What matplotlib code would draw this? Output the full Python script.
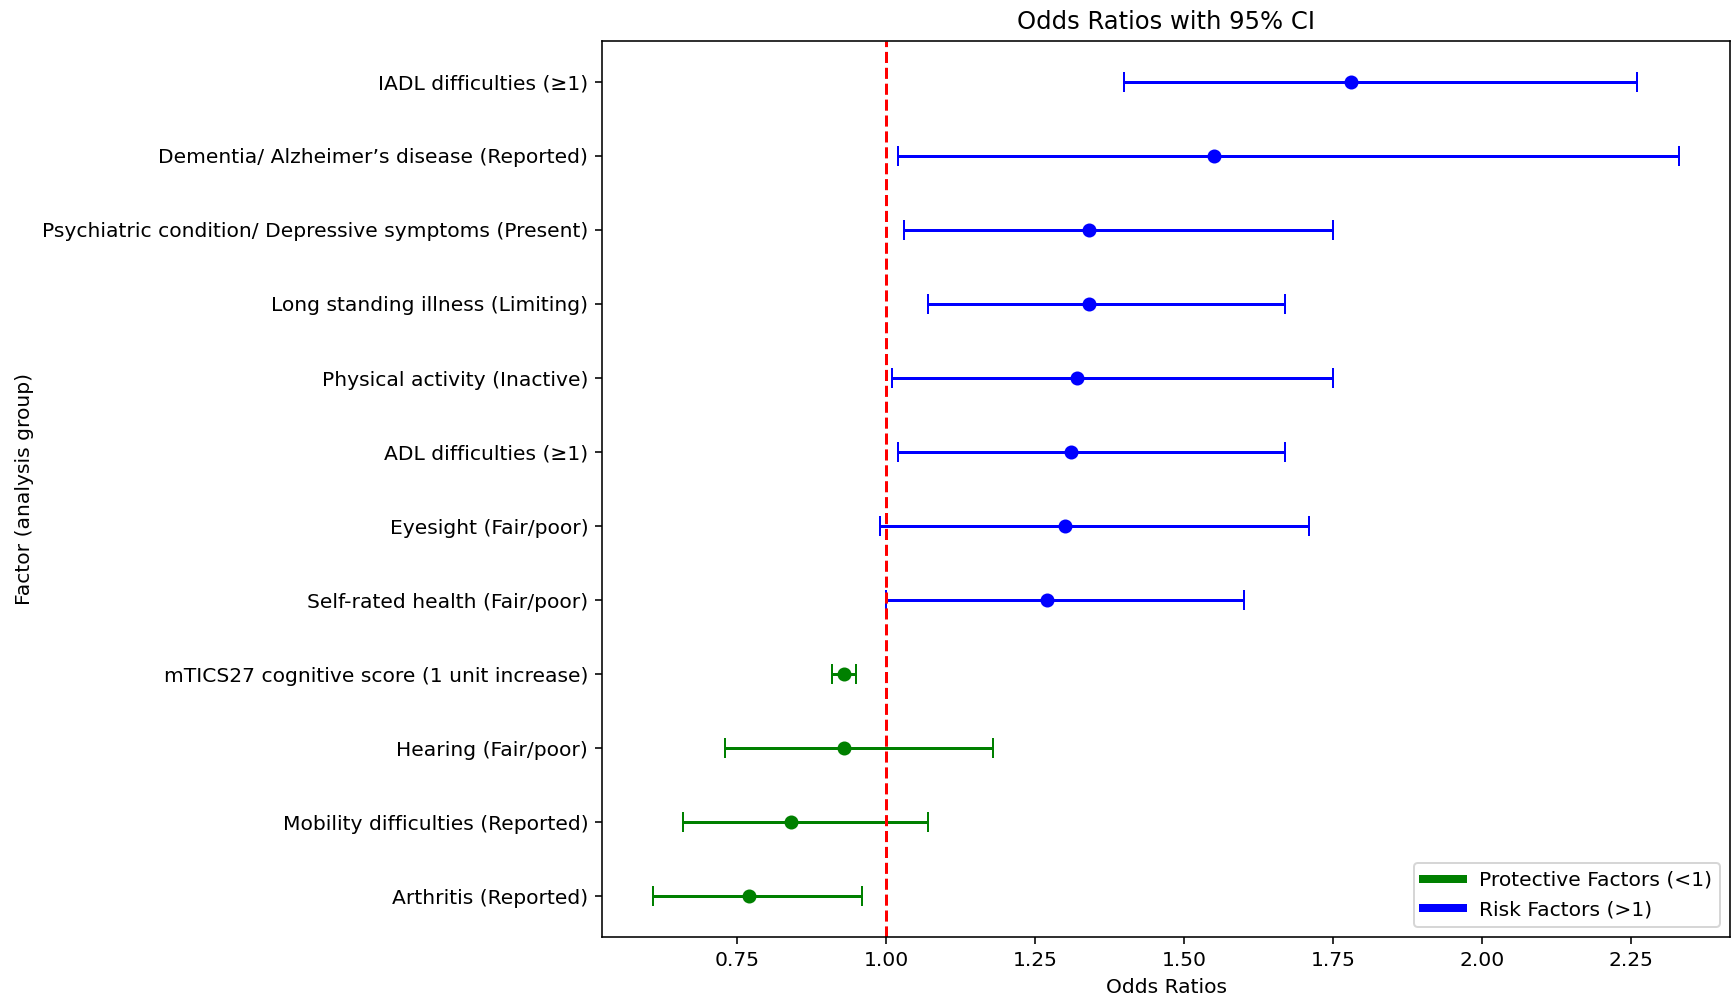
import matplotlib
matplotlib.use('Agg')
import matplotlib.pyplot as plt
from matplotlib.lines import Line2D

plt.rcParams['font.size'] = 10.1

# factors listed bottom -> top
factors = [
    'Arthritis (Reported)',
    'Mobility difficulties (Reported)',
    'Hearing (Fair/poor)',
    'mTICS27 cognitive score (1 unit increase)',
    'Self-rated health (Fair/poor)',
    'Eyesight (Fair/poor)',
    'ADL difficulties (≥1)',
    'Physical activity (Inactive)',
    'Long standing illness (Limiting)',
    'Psychiatric condition/ Depressive symptoms (Present)',
    'Dementia/ Alzheimer’s disease (Reported)',
    'IADL difficulties (≥1)',
]
odds = [0.77, 0.84, 0.93, 0.93, 1.27, 1.30, 1.31, 1.32, 1.34, 1.34, 1.55, 1.78]
ci_low = [0.61, 0.66, 0.73, 0.91, 1.00, 0.99, 1.02, 1.01, 1.07, 1.03, 1.02, 1.40]
ci_high = [0.96, 1.07, 1.18, 0.95, 1.60, 1.71, 1.67, 1.75, 1.67, 1.75, 2.33, 2.26]

fig = plt.figure(figsize=(12.03, 6.96), dpi=144)
ax = fig.add_axes([0.3476, 0.0649, 0.6512, 0.8941])

for i in range(len(factors)):
    c = 'green' if odds[i] < 1 else 'blue'
    ax.errorbar(odds[i], i,
                xerr=[[odds[i] - ci_low[i]], [ci_high[i] - odds[i]]],
                fmt='o', color=c, ecolor=c, capsize=5)

ax.axvline(1, color='red', linestyle='--')
ax.set_yticks(range(len(factors)))
ax.set_yticklabels(factors)
ax.set_xlabel('Odds Ratios')
ax.set_ylabel('Factor (analysis group)')
ax.set_title('Odds Ratios with 95% CI')

handles = [Line2D([0], [0], color='green', lw=4),
           Line2D([0], [0], color='blue', lw=4)]
ax.legend(handles, ['Protective Factors (<1)', 'Risk Factors (>1)'], loc='lower right')

fig.savefig('out.png', dpi=144)
